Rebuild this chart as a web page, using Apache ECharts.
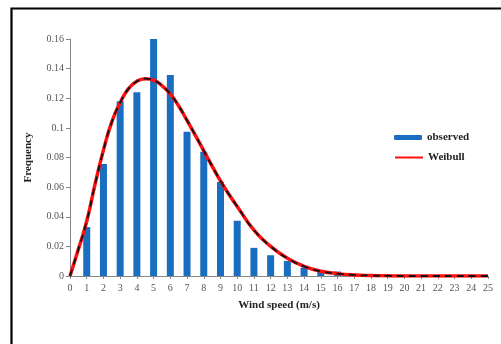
<!DOCTYPE html>
<html><head><meta charset="utf-8">
<script src="https://cdn.jsdelivr.net/npm/echarts@6/dist/echarts.min.js"></script>
<style>html,body{margin:0;padding:0;background:#fff}#c{width:501px;height:344px}</style>
</head><body><div id="c"></div>
<script>
// observed frequency per wind-speed bin (m/s)
const speeds = [1,2,3,4,5,6,7,8,9,10,11,12,13,14,15,16,17];
const observed = [0.033,0.0756,0.118,0.124,0.160,0.1357,0.0974,0.0839,0.0635,0.0373,0.019,0.014,0.0102,0.0056,0.0034,0.003,0.0008];
// Weibull curve
const fitX = [0,0.5,1,1.5,2,2.5,3,3.5,4,4.5,5,5.5,6,6.5,7,7.5,8,8.5,9,9.5,10,11,12,13,14,15,16,17,18,19,20,21,22,23,24,25];
const fitY = [0,0.018,0.037,0.062,0.085,0.104,0.117,0.1265,0.1315,0.1332,0.1322,0.1285,0.1228,0.1148,0.105,0.095,0.0845,0.0742,0.0642,0.0552,0.047,0.031,0.020,0.012,0.0065,0.0032,0.0016,0.0007,0.0003,0.0001,0,0,0,0,0,0];
const xTicks = {min:0, max:25, step:1};
const yTicks = {min:0, max:0.16, step:0.02};

const font = 'Liberation Serif';
const chart = echarts.init(document.getElementById('c'));
chart.setOption({
  animation:false,
  textStyle:{fontFamily:font},
  grid:{left:70, right:13, top:39, bottom:68},
  legend:[
    {data:['observed'], left:389, top:127, itemWidth:28, itemHeight:5, itemGap:6,
     textStyle:{fontFamily:font, fontWeight:'bold', fontSize:11, color:'#222'}},
    {data:['Weibull'], left:389, top:147, itemWidth:28, itemHeight:2,
     textStyle:{fontFamily:font, fontWeight:'bold', fontSize:11, color:'#222'}}
  ],
  xAxis:{type:'value', min:xTicks.min, max:xTicks.max, interval:xTicks.step,
    name:'Wind speed (m/s)', nameLocation:'middle', nameGap:24,
    nameTextStyle:{fontFamily:font, fontWeight:'bold', fontSize:11, color:'#222'},
    axisLine:{lineStyle:{color:'#888', width:1}},
    axisTick:{show:true, length:3, lineStyle:{color:'#888'}},
    axisLabel:{fontFamily:font, fontSize:10, color:'#555', margin:7},
    splitLine:{show:false}},
  yAxis:{type:'value', min:yTicks.min, max:yTicks.max, interval:yTicks.step,
    name:'Frequency', nameLocation:'middle', nameGap:36, nameRotate:90,
    nameTextStyle:{fontFamily:font, fontWeight:'bold', fontSize:11, color:'#222'},
    axisLine:{show:true, lineStyle:{color:'#888', width:1}},
    axisTick:{show:true, length:4, lineStyle:{color:'#888'}},
    axisLabel:{fontFamily:font, fontSize:10, color:'#555', margin:6},
    splitLine:{show:false}},
  series:[
    {name:'observed', type:'bar', barWidth:7, itemStyle:{color:'#1a6ec0'},
     data:speeds.map((s,i)=>[s,observed[i]]), z:2},
    {name:'Weibull', type:'line', smooth:true, symbol:'none',
     lineStyle:{color:'#ff1010', width:3.5}, itemStyle:{color:'#ff1010'},
     data:fitX.map((x,i)=>[x,fitY[i]]), z:3},
    {name:'fit', type:'line', smooth:true, symbol:'none',
     lineStyle:{color:'#111', width:1.8, type:[7,5]},
     data:fitX.map((x,i)=>[x,fitY[i]]), z:4}
  ],
  graphic:[{type:'polyline', shape:{points:[[11.5,344],[11.5,8.5],[501,8.5]]},
    style:{stroke:'#000', lineWidth:2.2, fill:null}}]
});
</script></body></html>
